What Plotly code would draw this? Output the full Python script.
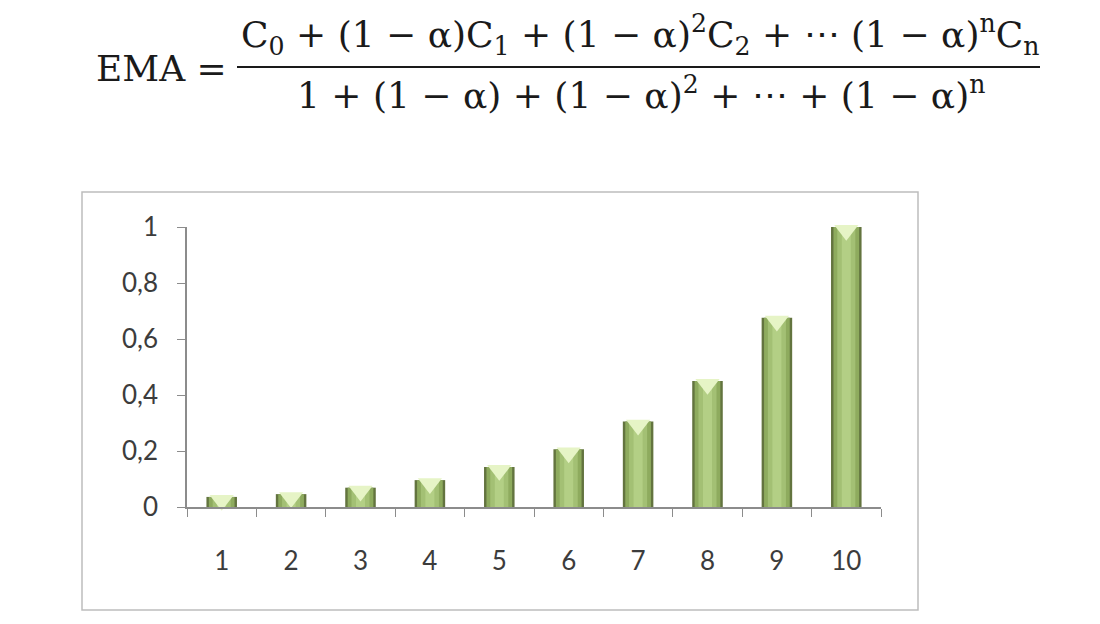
import plotly.graph_objects as go

categories = ["1", "2", "3", "4", "5", "6", "7", "8", "9", "10"]
weights = [0.036, 0.046, 0.069, 0.096, 0.143, 0.206, 0.305, 0.45, 0.676, 1.0]
y_ticks = [0, 0.2, 0.4, 0.6, 0.8, 1]
y_tick_labels = ["0", "0,2", "0,4", "0,6", "0,8", "1"]

fig = go.Figure()
# layered bars to mimic the cylinder shading
fig.add_trace(go.Bar(x=categories, y=weights, width=0.44, marker=dict(color="#63743f", line=dict(width=0)), hoverinfo="skip"))
fig.add_trace(go.Bar(x=categories, y=weights, width=0.37, marker=dict(color="#8eab5e", line=dict(width=0)), hoverinfo="skip"))
fig.add_trace(go.Bar(x=categories, y=weights, width=0.26, marker=dict(color="#a3c074", line=dict(width=0)), hoverinfo="skip"))
fig.add_trace(go.Bar(x=categories, y=weights, width=0.13, marker=dict(color="#b3cf85", line=dict(width=0)), hoverinfo="skip"))
# light V-shaped caps
fig.add_trace(go.Scatter(x=categories, y=[w - 0.012 for w in weights], mode="markers",
                         marker=dict(symbol="triangle-down", size=21, color="#e6f4c6", line=dict(width=0)),
                         hoverinfo="skip", cliponaxis=False))

W, H = 1100, 624
OFF = 8  # page offset of the plot div
L, R, T, B = 187 - OFF, 881 - OFF, 227 - OFF, 507 - OFF
pw, ph = R - L, B - T

def px(x):
    return (x - OFF - L) / pw

def py(y):
    return (B - (y - OFF)) / ph

fig.add_shape(type="rect", xref="paper", yref="paper", x0=px(82), x1=px(918), y0=py(610), y1=py(192),
              line=dict(color="#bdbdbd", width=1.5), fillcolor="rgba(0,0,0,0)", layer="below")
fig.add_shape(type="line", xref="paper", yref="paper", x0=px(237), x1=px(1040), y0=py(67), y1=py(67),
              line=dict(color="#1a1a1a", width=2))

ffont = dict(family="DejaVu Serif", size=36, color="#1a1a1a")
fig.add_annotation(xref="paper", yref="paper", x=px(229), y=py(68), xanchor="right", yanchor="middle",
                   text="EMA =", showarrow=False, font=ffont)
fig.add_annotation(xref="paper", yref="paper", x=px(640), y=py(35), xanchor="center", yanchor="middle",
                   text="C<sub>0</sub> + (1 − α)C<sub>1</sub> + (1 − α)<sup>2</sup>C<sub>2</sub> + ⋯ (1 − α)<sup>n</sup>C<sub>n</sub>",
                   showarrow=False, font=ffont)
fig.add_annotation(xref="paper", yref="paper", x=px(641), y=py(93), xanchor="center", yanchor="middle",
                   text="1 + (1 − α) + (1 − α)<sup>2</sup> + ⋯ + (1 − α)<sup>n</sup>",
                   showarrow=False, font=ffont)

fig.update_layout(
    width=W, height=H, barmode="overlay", showlegend=False,
    paper_bgcolor="white", plot_bgcolor="white",
    margin=dict(l=L, r=W - R, t=T, b=H - B),
    font=dict(family="Lato", size=26, color="#3c3c3c"),
)
fig.update_xaxes(type="category", range=[-0.5, 9.5], tickson="boundaries", ticks="outside", ticklen=8,
                 tickcolor="#8c8c8c", showline=True, linecolor="#8c8c8c", linewidth=1.5, showgrid=False,
                 zeroline=False, ticklabelstandoff=30, tickfont=dict(family="Lato", size=26, color="#3c3c3c"))
fig.update_yaxes(range=[0, 1], tickvals=y_ticks, ticktext=y_tick_labels, ticks="outside", ticklen=8,
                 tickcolor="#8c8c8c", showline=True, linecolor="#8c8c8c", linewidth=1.5, showgrid=False,
                 zeroline=False, ticklabelstandoff=14, tickfont=dict(family="Lato", size=26, color="#3c3c3c"))

fig.write_html("out.html")
